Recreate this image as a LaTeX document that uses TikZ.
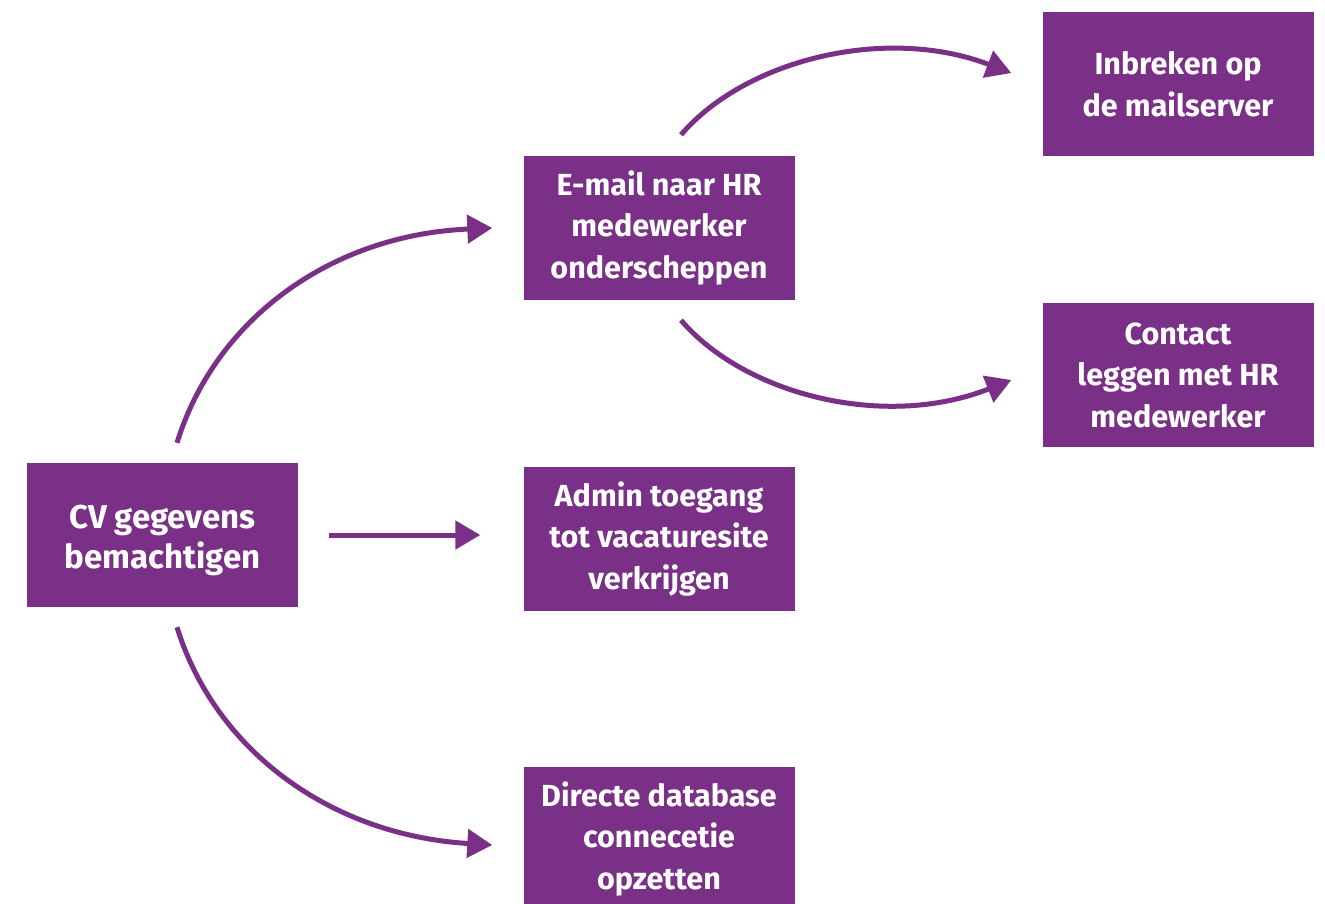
\documentclass[tikz,border=0pt]{standalone}
\usepackage{fontspec}
\setmainfont{Fira Sans}
\usetikzlibrary{arrows.meta,calc}
\definecolor{hrpurple}{RGB}{123,48,135}
\tikzset{box/.style={fill=hrpurple,text=white,minimum width=271pt,minimum height=144pt,inner sep=0pt,align=center,font=\fontsize{30.5}{41.5}\selectfont\bfseries},
  arr/.style={hrpurple,line width=5pt,-{Triangle[length=25pt,width=28pt]}}}
\begin{document}
\begin{tikzpicture}[x=1pt,y=-1pt]
\useasboundingbox (0,0) rectangle (1325,904);
\node[box,font=\fontsize{33}{40}\selectfont\bfseries] (cv) at (162.5,535) {\rule{0pt}{34pt}CV gegevens\\bemachtigen};
\node[box] (email) at (659,228) {E-mail naar HR\\medewerker\\onderscheppen};
\node[box] (admin) at (659,539) {Admin toegang\\tot vacaturesite\\verkrijgen};
\node[box] (database) at (659,839) {Directe database\\connecetie\\opzetten};
\node[box] (mailserver) at (1178,84) {Inbreken op\\de mailserver};
\node[box] (contact) at (1178,375) {Contact\\leggen met HR\\medewerker};
\coordinate (a1) at ($(cv.north)+(14.5,-20)$); \coordinate (b1) at ($(email.west)+(-31,0)$);
\coordinate (a2) at ($(cv.east)+(31,0)$); \coordinate (b2) at ($(admin.west)+(-43,-4)$);
\coordinate (a3) at ($(cv.south)+(14.5,20)$); \coordinate (b3) at ($(database.west)+(-31,6)$);
\coordinate (a4) at ($(email.north)+(22,-21)$); \coordinate (b4) at ($(mailserver.west)+(-31,-11)$);
\coordinate (a5) at ($(email.south)+(22,20)$); \coordinate (b5) at ($(contact.west)+(-31,5)$);
\draw[arr] (a1) .. controls (215,320) and (330,235) .. (b1);
\draw[arr] (a2) -- (b2);
\draw[arr] (a3) .. controls (215,750) and (330,835) .. (b3);
\draw[arr] (a4) .. controls (745,60) and (885,25) .. (b4);
\draw[arr] (a5) .. controls (745,395) and (885,430) .. (b5);
\end{tikzpicture}
\end{document}
